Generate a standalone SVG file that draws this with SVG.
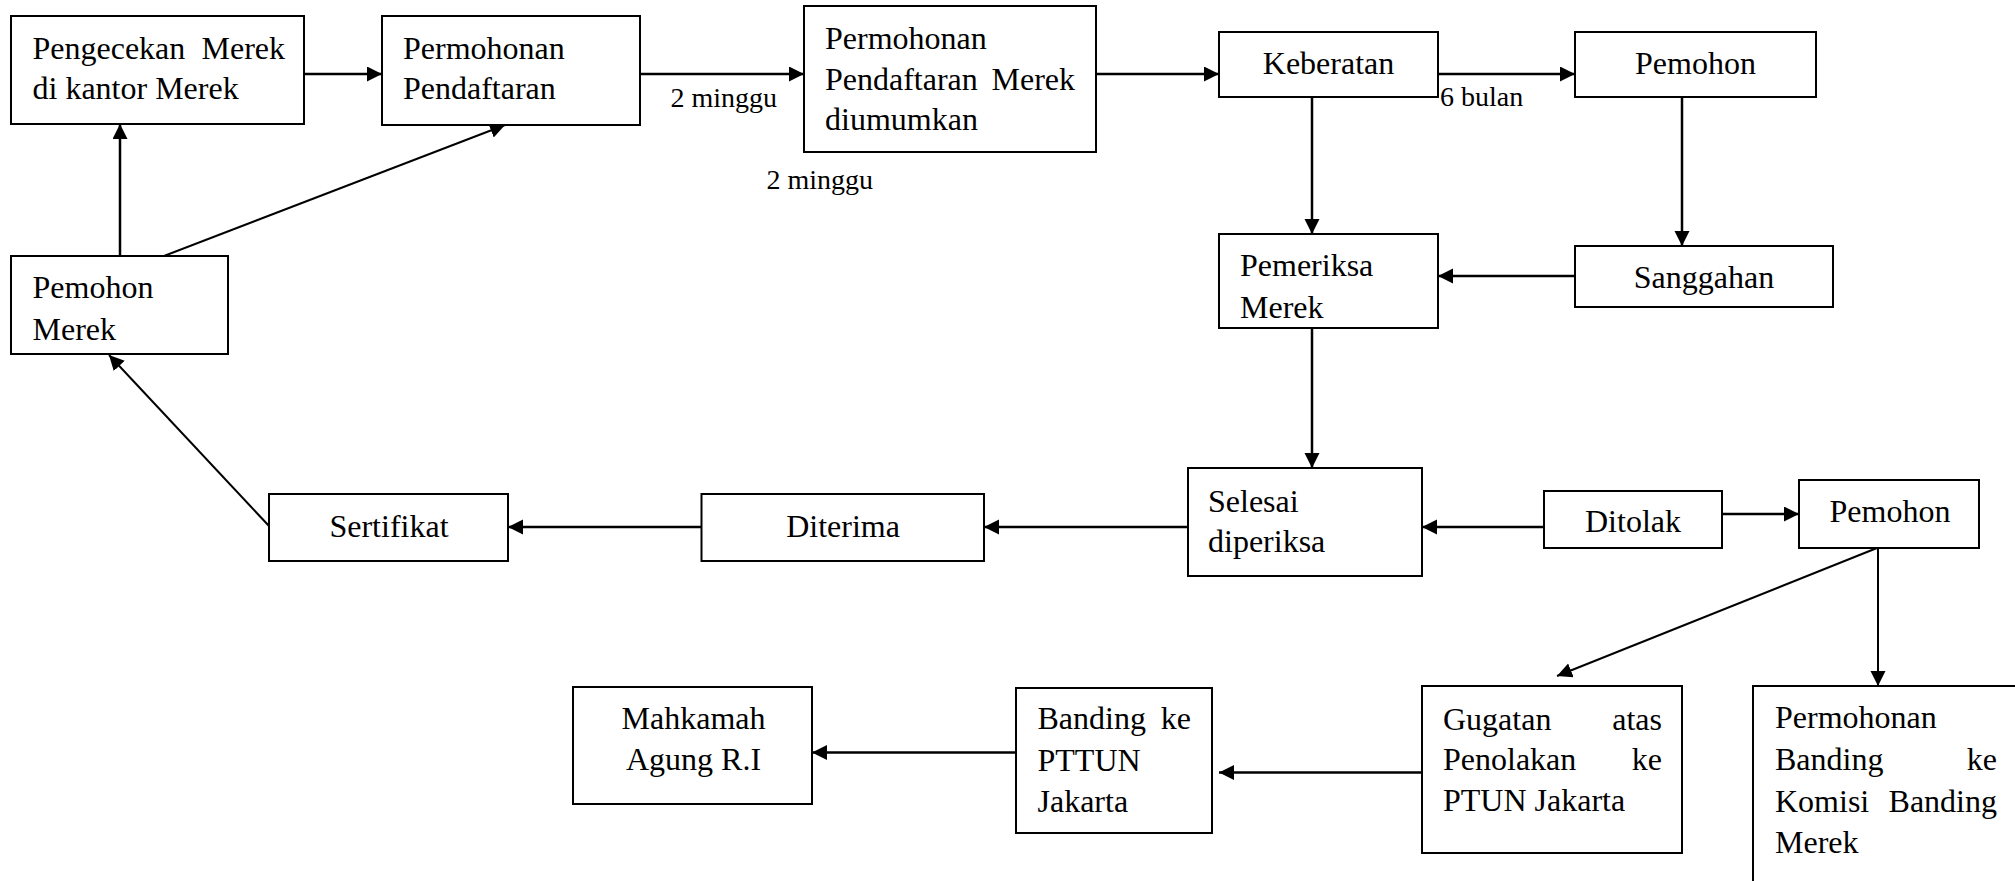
<svg xmlns="http://www.w3.org/2000/svg" width="2015" height="881" viewBox="0 0 2015 881">
<style>
.box{fill:#fff;stroke:#000;stroke-width:2}
.t{font-family:"Liberation Serif","Times New Roman",serif;font-size:32px;fill:#000}
.c{text-anchor:middle}
.e{text-anchor:end}
.lbl{font-family:"Liberation Serif","Times New Roman",serif;font-size:28px;fill:#000}
.ln{fill:none;stroke:#000;stroke-width:2.5}
.dg{fill:none;stroke:#000;stroke-width:2}
</style>
<defs>
<marker id="ah" markerUnits="userSpaceOnUse" markerWidth="16" markerHeight="16" refX="15" refY="7.5" orient="auto">
<path d="M0,0 L15,7.5 L0,15 z" fill="#000"/>
</marker>
</defs>
<rect width="2015" height="881" fill="#fff"/>
<g id="connectors">
<line class="ln" x1="304" y1="74" x2="382" y2="74" marker-end="url(#ah)"/>
<line class="ln" x1="640" y1="74" x2="804" y2="74" marker-end="url(#ah)"/>
<line class="ln" x1="1096" y1="74" x2="1219" y2="74" marker-end="url(#ah)"/>
<line class="ln" x1="1438" y1="74" x2="1575" y2="74" marker-end="url(#ah)"/>
<line class="ln" x1="1312" y1="97" x2="1312" y2="234" marker-end="url(#ah)"/>
<line class="ln" x1="1682" y1="97" x2="1682" y2="246" marker-end="url(#ah)"/>
<line class="ln" x1="1575" y1="276" x2="1438" y2="276" marker-end="url(#ah)"/>
<line class="ln" x1="1312" y1="328" x2="1312" y2="468" marker-end="url(#ah)"/>
<line class="ln" x1="1544" y1="527" x2="1422" y2="527" marker-end="url(#ah)"/>
<line class="ln" x1="1722" y1="514" x2="1799" y2="514" marker-end="url(#ah)"/>
<line class="ln" x1="1188" y1="527" x2="984" y2="527" marker-end="url(#ah)"/>
<line class="ln" x1="701.5" y1="527" x2="508" y2="527" marker-end="url(#ah)"/>
<line class="dg" x1="269" y1="526" x2="109" y2="355" marker-end="url(#ah)"/>
<line class="ln" x1="120" y1="256" x2="120" y2="124" marker-end="url(#ah)"/>
<line class="dg" x1="164" y1="256" x2="505" y2="125" marker-end="url(#ah)"/>
<line class="dg" x1="1877" y1="548" x2="1557" y2="676" marker-end="url(#ah)"/>
<line class="dg" x1="1878" y1="548" x2="1878" y2="686" marker-end="url(#ah)"/>
<line class="ln" x1="1422" y1="772.5" x2="1219" y2="772.5" marker-end="url(#ah)"/>
<line class="ln" x1="1016" y1="752.5" x2="812" y2="752.5" marker-end="url(#ah)"/>
</g>
<g id="labels">
<text class="lbl" x="670.5" y="106.5">2 minggu</text>
<text class="lbl" x="766.5" y="188.5">2 minggu</text>
<text class="lbl" x="1440" y="106">6 bulan</text>
</g>
<g id="n-pengecekan">
<rect class="box" x="11" y="16" width="293" height="108"/>
<text class="t" x="32.5" y="59">Pengecekan</text>
<text class="t e" x="285" y="59">Merek</text>
<text class="t" x="32.5" y="99">di kantor Merek</text>
</g>
<g id="n-permohonan">
<rect class="box" x="382" y="16" width="258" height="109"/>
<text class="t" x="403" y="59">Permohonan</text>
<text class="t" x="403" y="99">Pendaftaran</text>
</g>
<g id="n-diumumkan">
<rect class="box" x="804" y="6" width="292" height="146"/>
<text class="t" x="825" y="48.5">Permohonan</text>
<text class="t" x="825" y="90">Pendaftaran</text>
<text class="t e" x="1075" y="90">Merek</text>
<text class="t" x="825" y="130">diumumkan</text>
</g>
<g id="n-keberatan">
<rect class="box" x="1219" y="32" width="219" height="65"/>
<text class="t c" x="1328.5" y="74">Keberatan</text>
</g>
<g id="n-pemohon1">
<rect class="box" x="1575" y="32" width="241" height="65"/>
<text class="t c" x="1695.5" y="74">Pemohon</text>
</g>
<g id="n-sanggahan">
<rect class="box" x="1575" y="246" width="258" height="61"/>
<text class="t c" x="1704" y="288">Sanggahan</text>
</g>
<g id="n-pemeriksa">
<rect class="box" x="1219" y="234" width="219" height="94"/>
<text class="t" x="1240" y="276">Pemeriksa</text>
<text class="t" x="1240" y="318">Merek</text>
</g>
<g id="n-pemohon-merek">
<rect class="box" x="11" y="256" width="217" height="98"/>
<text class="t" x="32.5" y="298">Pemohon</text>
<text class="t" x="32.5" y="340">Merek</text>
</g>
<g id="n-selesai">
<rect class="box" x="1188" y="468" width="234" height="108"/>
<text class="t" x="1208" y="512">Selesai</text>
<text class="t" x="1208" y="552">diperiksa</text>
</g>
<g id="n-ditolak">
<rect class="box" x="1544" y="491" width="178" height="57"/>
<text class="t c" x="1633" y="532">Ditolak</text>
</g>
<g id="n-pemohon2">
<rect class="box" x="1799" y="480" width="180" height="68"/>
<text class="t c" x="1890" y="522">Pemohon</text>
</g>
<g id="n-diterima">
<rect class="box" x="701.5" y="494" width="282.5" height="67"/>
<text class="t c" x="843" y="537">Diterima</text>
</g>
<g id="n-sertifikat">
<rect class="box" x="269" y="494" width="239" height="67"/>
<text class="t c" x="389" y="537">Sertifikat</text>
</g>
<g id="n-gugatan">
<rect class="box" x="1422" y="686" width="260" height="167"/>
<text class="t" x="1443" y="730">Gugatan</text>
<text class="t e" x="1662" y="730">atas</text>
<text class="t" x="1443" y="770">Penolakan</text>
<text class="t e" x="1662" y="770">ke</text>
<text class="t" x="1443" y="811">PTUN Jakarta</text>
</g>
<g id="n-banding">
<rect class="box" x="1016" y="688" width="196" height="145"/>
<text class="t" x="1037.5" y="729">Banding</text>
<text class="t e" x="1191" y="729">ke</text>
<text class="t" x="1037.5" y="771">PTTUN</text>
<text class="t" x="1037.5" y="812">Jakarta</text>
</g>
<g id="n-mahkamah">
<rect class="box" x="573" y="687" width="239" height="117"/>
<text class="t c" x="693.5" y="729">Mahkamah</text>
<text class="t c" x="693.5" y="770">Agung R.I</text>
</g>
<g id="n-komisi">
<rect class="box" x="1753" y="686" width="300" height="260"/>
<text class="t" x="1775" y="728">Permohonan</text>
<text class="t" x="1775" y="770">Banding</text>
<text class="t e" x="1997" y="770">ke</text>
<text class="t" x="1775" y="811.5">Komisi</text>
<text class="t e" x="1997" y="811.5">Banding</text>
<text class="t" x="1775" y="853">Merek</text>
</g>
</svg>
